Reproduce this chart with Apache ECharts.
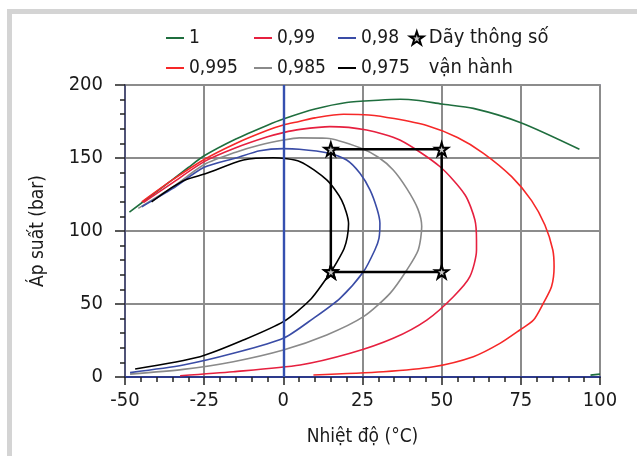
<!DOCTYPE html>
<html><head><meta charset="utf-8">
<script src="https://cdn.jsdelivr.net/npm/echarts@6/dist/echarts.min.js"></script>
<style>html,body{margin:0;padding:0;background:#fff}#c{width:637px;height:456px}</style>
</head><body><div id="c"></div>
<script>
const FONT = '"DejaVu Sans Condensed","Liberation Sans Narrow","Roboto Condensed",sans-serif';

// Quality lines (temperature °C, pressure bar)
const q1 = [[-48.6,113],[-40,127],[-30,143.5],[-25,151.5],[-15,163],[-5,172.5],[0,176.7],[10,183.5],[20,188],[30,189.6],[37,190.2],[42,189.6],[50,187],[60,184],[75,174.2],[93.5,156],null,[97,1.3],[100,2]];
const q995 = [[-44.7,120],[-35,135],[-25,149],[-15,160],[-5,169],[0,172.6],[5,175],[10,177.5],[19,180],[27,179.5],[35,177],[45.3,172.2],[55,164],[63.2,153.2],[72.1,137.2],[78.4,120.8],[82.6,104.1],[85.1,87],[85.5,75.5],[84.7,62],[82.1,50.5],[79,39],[74.7,32.2],[68.4,23],[60,13.9],[47.4,7],[31.6,3.6],[9.5,1.4]];
const q99 = [[-44.2,119.5],[-35,133],[-25,147.5],[-15,157],[-5,164.5],[0,167.4],[5.3,169.6],[14.7,171.5],[26.3,169.2],[36.8,162.3],[49.5,144],[57.4,124.7],[60.5,107.5],[61,93.8],[61,87],[58.9,68.7],[53.7,55],[45.3,39],[34.7,26.5],[21.1,16.2],[5.3,8.2],[-15.8,3.6],[-32.6,0.9]];
const q985 = [[-45.8,115.5],[-35,130],[-25,145.5],[-15,154],[-7.4,158.9],[0,162.3],[5,163.8],[13.7,163.5],[24.2,157],[30,150.5],[34.7,141.8],[39,129],[42.5,115],[43.7,103],[42.6,87],[39,73.3],[33.7,57.3],[25.3,41.3],[13.7,28.8],[0,18.5],[-15.8,10.5],[-31.6,5.2],[-48.4,2]];
const q98 = [[-44.7,116.6],[-35,129],[-25,143.6],[-15,150],[-7.4,155],[0,156.4],[5,156],[13.7,153.6],[20,148.6],[24.2,139.5],[27.4,128],[29.6,115],[30.5,105.3],[30.2,95],[28.9,87],[25.3,72.1],[17.9,53.9],[9.5,40.2],[0,26.5],[-15.8,16.2],[-31.6,8.2],[-48.4,3]];
const q975 = [[-41.6,120],[-35,130],[-31,135],[-24.2,139.5],[-12.6,148.6],[-3.2,150.2],[5.3,147.5],[13.7,135],[18.4,121.2],[20.6,105],[20.2,96],[19.2,88],[17,79],[14.7,71],[8.4,52.7],[0,37.9],[-12.6,25.3],[-26.3,13.9],[-46.8,5.5]];
// Operating range
const opRange = [[15,72],[50,72],[50,156],[15,156],[15,72]];

const names = ['1','0,995','0,99','0,985','0,98','0,975'];
const colors = ['#1f6e3e','#f62828','#e6203f','#8a8a8a','#3a4ca6','#000000'];
const datas = [q1,q995,q99,q985,q98,q975];
const opName = 'Dãy thông số vận hành';
const STAR = 'path://M50,2 L61,36 L97,36 L68,57 L79,92 L50,71 L21,92 L32,57 L3,36 L39,36 Z';

const series = names.map((n,i)=>({
  name:n, type:'line', data:datas[i], symbol:'none', smooth:0.25, connectNulls:false,
  lineStyle:{color:colors[i], width:1.6}, itemStyle:{color:colors[i]}, z:3
}));
series[0].markLine = {silent:true, symbol:'none', label:{show:false}, animation:false,
  lineStyle:{color:'#3550b0', width:2.4, type:'solid', opacity:1}, data:[{xAxis:0}]};
series.push({
  name:opName, type:'line', data:opRange, symbol:STAR, symbolSize:13, showSymbol:true,
  lineStyle:{color:'#000', width:2.5}, itemStyle:{color:'#c8c8c8', borderColor:'#000', borderWidth:2}, z:5
});

const legendText = {fontFamily:FONT, fontSize:19, color:'#1a1a1a', lineHeight:30};
function col(left, data){
  return {orient:'vertical', left:left, top:23, padding:0, itemGap:0, itemWidth:18, itemHeight:2,
    textStyle:legendText, data:data.map(n=>({name:n, icon:'rect'})), selectedMode:false};
}
const chart = echarts.init(document.getElementById('c'), null, {renderer:'canvas'});
chart.setOption({
  animation:false,
  backgroundColor:'#fff',
  graphic:[{type:'rect', shape:{x:9.5, y:11.5, width:700, height:500}, style:{fill:'none', stroke:'#d4d4d4', lineWidth:5}, z:-10, silent:true}],
  legend:[
    col(166, ['1','0,995']),
    col(254, ['0,99','0,985']),
    col(338, ['0,98','0,975']),
    {orient:'vertical', left:409, top:-7, padding:0, itemWidth:14, itemHeight:13, selectedMode:false,
     data:[{name:opName, icon:STAR}],
     formatter:()=> '\nDãy thông số\nvận hành',
     textStyle:Object.assign({}, legendText, {fontSize:20})}
  ],
  grid:{left:125, right:37, top:85, bottom:79, show:true, borderColor:'#4b4b6b', borderWidth:1.5, backgroundColor:'transparent'},
  xAxis:{type:'value', min:-50, max:100, interval:25,
    name:'Nhiệt độ (°C)', nameLocation:'middle', nameGap:51,
    nameTextStyle:{fontFamily:FONT, fontSize:19, color:'#1a1a1a'},
    axisLine:{show:true, onZero:false, lineStyle:{color:'#2d3a8c', width:2}},
    axisTick:{show:true, length:8, lineStyle:{color:'#222', width:1.5}},
    minorTick:{show:true, splitNumber:5, length:5, lineStyle:{color:'#222', width:1.5}},
    axisLabel:{fontFamily:FONT, fontSize:20, color:'#1a1a1a', margin:14},
    splitLine:{show:true, lineStyle:{color:'#8c8c8c', width:2}}},
  yAxis:{type:'value', min:0, max:200, interval:50,
    name:'Áp suất (bar)', nameLocation:'middle', nameGap:77,
    nameTextStyle:{fontFamily:FONT, fontSize:19, color:'#1a1a1a'},
    axisLine:{show:true, onZero:false, lineStyle:{color:'#3c4170', width:1.5}},
    axisTick:{show:true, length:10, lineStyle:{color:'#222', width:1.5}},
    minorTick:{show:true, splitNumber:5, length:5, lineStyle:{color:'#222', width:1.5}},
    axisLabel:{fontFamily:FONT, fontSize:20, color:'#1a1a1a', margin:22},
    splitLine:{show:true, lineStyle:{color:'#8c8c8c', width:2}}},
  series:series
});
</script></body></html>
